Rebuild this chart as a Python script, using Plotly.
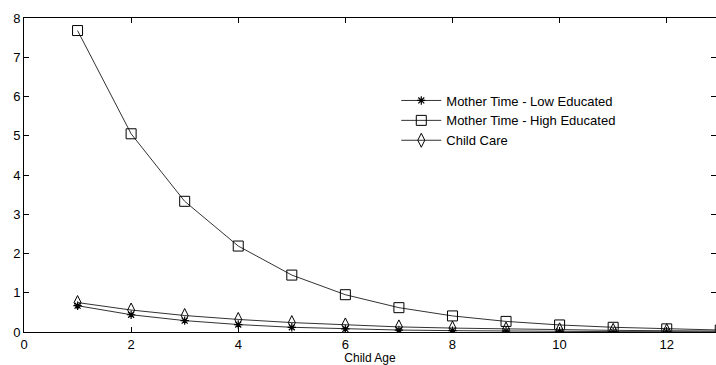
import plotly.graph_objects as go

ages = [1, 2, 3, 4, 5, 6, 7, 8, 9, 10, 11, 12, 13]
mother_low = [0.67, 0.44, 0.29, 0.19, 0.12, 0.08, 0.05, 0.035, 0.022, 0.015, 0.01, 0.007, 0.005]
mother_high = [7.68, 5.05, 3.33, 2.19, 1.45, 0.95, 0.62, 0.41, 0.27, 0.18, 0.12, 0.08, 0.05]
child_care = [0.75, 0.56, 0.42, 0.32, 0.24, 0.18, 0.13, 0.10, 0.075, 0.056, 0.042, 0.032, 0.024]

x_ticks = [0, 2, 4, 6, 8, 10, 12]
y_ticks = [0, 1, 2, 3, 4, 5, 6, 7, 8]

fig = go.Figure()
fig.add_trace(go.Scatter(x=ages, y=mother_low, mode="lines+markers", name="Mother Time - Low Educated",
                         line=dict(color="#333333", width=1),
                         marker=dict(symbol="asterisk-open", size=7, color="black", line=dict(width=1.2, color="black"))))
fig.add_trace(go.Scatter(x=ages, y=mother_high, mode="lines+markers", name="Mother Time - High Educated",
                         line=dict(color="#333333", width=1),
                         marker=dict(symbol="square-open", size=10, color="black", line=dict(width=1, color="black"))))
fig.add_trace(go.Scatter(x=ages, y=child_care, mode="lines+markers", name="Child Care",
                         line=dict(color="#333333", width=1),
                         marker=dict(symbol="diamond-tall-open", size=10, color="black", line=dict(width=1, color="black"))))

font = dict(family="Liberation Sans, Arial, sans-serif", size=13, color="black")
fig.update_layout(
    width=716, height=365,
    margin=dict(l=24, r=0, t=18, b=33),
    paper_bgcolor="white", plot_bgcolor="white",
    font=font,
    showlegend=True,
    legend=dict(x=0.538, y=0.785, xanchor="left", yanchor="top", bgcolor="rgba(0,0,0,0)",
                font=dict(family="Liberation Sans, Arial, sans-serif", size=13), itemwidth=40,
                tracegroupgap=0),
    xaxis=dict(range=[0, 12.92], tickvals=x_ticks, ticks="inside", ticklen=5, tickcolor="black",
               showline=True, linecolor="black", linewidth=1, mirror="ticks", showgrid=False, zeroline=False,
               title=dict(text="Child Age", standoff=3, font=dict(size=12))),
    yaxis=dict(range=[0, 8], tickvals=y_ticks, ticks="inside", ticklen=5, tickcolor="black",
               showline=True, linecolor="black", linewidth=1, mirror="ticks", showgrid=False, zeroline=False),
)
fig.write_html("out.html")
